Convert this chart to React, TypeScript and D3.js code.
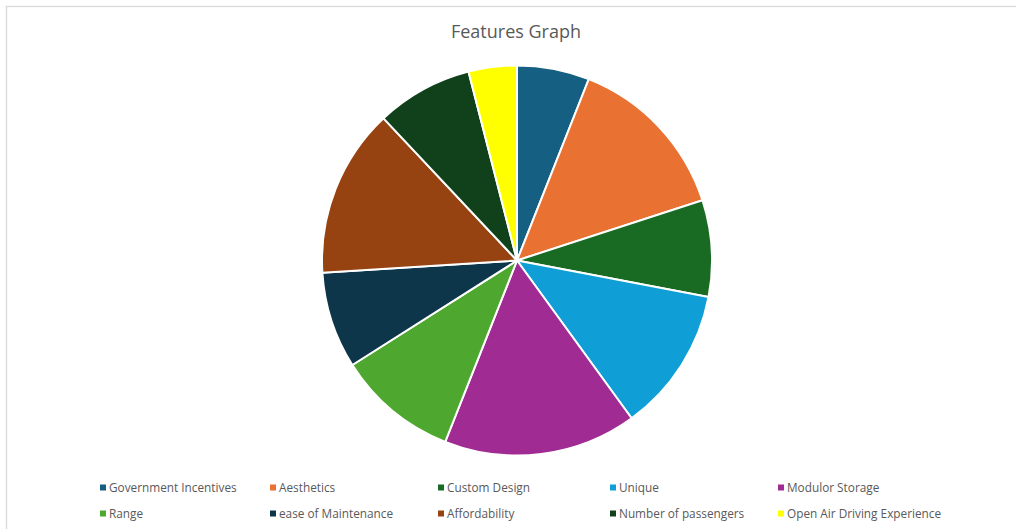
import React from "react";
import * as d3 from "d3";

const categories = [
  "Government Incentives",
  "Aesthetics",
  "Custom Design",
  "Unique",
  "Modulor Storage",
  "Range",
  "ease of Maintenance",
  "Affordability",
  "Number of passengers",
  "Open Air Driving Experience",
];
const values = [6, 14, 8, 12, 16, 10, 8, 14, 8, 4];
const colors = [
  "#156082",
  "#E97132",
  "#196B24",
  "#0F9ED5",
  "#A02B93",
  "#4EA72E",
  "#0D364B",
  "#974211",
  "#10411A",
  "#FFFF00",
];

export default function App() {
  const W = 1016;
  const H = 529;
  const cx = 517;
  const cy = 260.5;
  const r = 195;
  const pie = d3.pie<number>().sort(null).value((d) => d)(values);
  const arc = d3.arc<d3.PieArcDatum<number>>().innerRadius(0).outerRadius(r);
  const colX = [100, 270, 438, 610, 778];
  const rowY = [487, 513];
  const font = "'Open Sans', sans-serif";
  return (
    <svg
      width={W}
      height={H}
      style={{ position: "fixed", left: 0, top: 0 }}
    >
      <rect x={0} y={0} width={W} height={H} fill="#fff" />
      <rect x={6.5} y={6.5} width={W + 20} height={H + 20} fill="none" stroke="#d9d9d9" strokeWidth={1.3} />
      <text
        x={516}
        y={38}
        textAnchor="middle"
        fontFamily={font}
        fontSize={18}
        fill="#595959"
      >
        Features Graph
      </text>
      <g transform={`translate(${cx},${cy})`}>
        {pie.map((p, i) => (
          <path key={i} d={arc(p) || ""} fill={colors[i]} stroke="#fff" strokeWidth={2} />
        ))}
      </g>
      {categories.map((c, i) => {
        const x = colX[i % 5];
        const y = rowY[Math.floor(i / 5)];
        return (
          <g key={c}>
            <rect x={x} y={y - 2.5} width={6} height={6} fill={colors[i]} />
            <text x={x + 9} y={y + 4.5} fontFamily={font} fontSize={11.8} fill="#595959">
              {c}
            </text>
          </g>
        );
      })}
    </svg>
  );
}
